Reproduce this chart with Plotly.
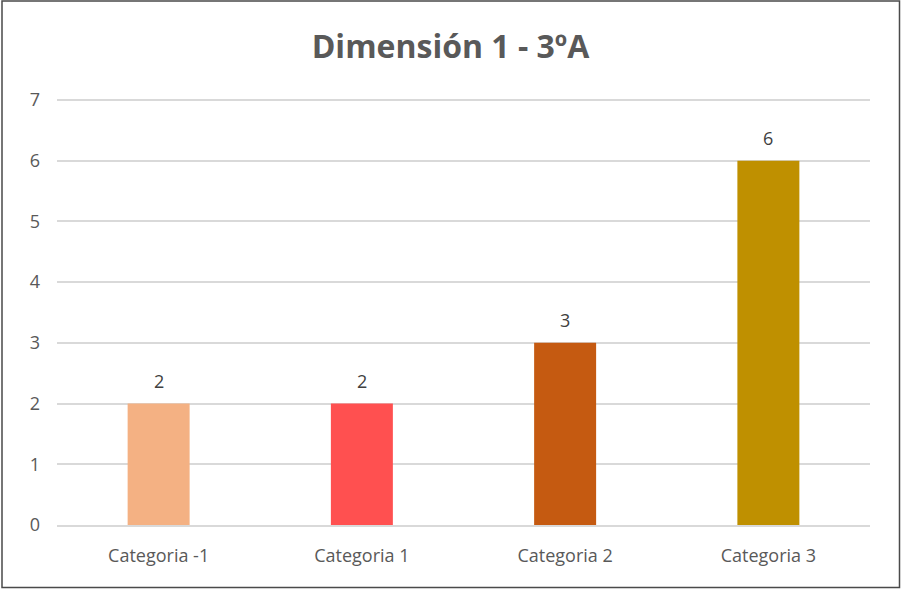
import plotly.graph_objects as go

categories = ["Categoria -1", "Categoria 1", "Categoria 2", "Categoria 3"]
values = [2, 2, 3, 6]
colors = ["#F4B183", "#FF5050", "#C55A11", "#BF9000"]
y_ticks = [0, 1, 2, 3, 4, 5, 6, 7]

W, H = 901, 589
YMAX = 7.05
L, R, B = 57, 31, 64
T = 97
pw, ph = W - L - R, H - T - B

fig = go.Figure(go.Bar(
    x=categories, y=values, marker=dict(color=colors, line=dict(width=0)),
    width=0.305, hoverinfo="x+y",
))

for c, v in zip(categories, values):
    fig.add_annotation(x=c, y=v, text=str(v), showarrow=False,
                       yanchor="bottom", yshift=9,
                       font=dict(family="Open Sans", size=18, color="#404040"))

def px_x(p):
    return (p - L) / pw

def px_y(p):
    return (H - B - p) / ph

fig.update_layout(
    width=W, height=H,
    margin=dict(l=L, r=R, t=T, b=B),
    paper_bgcolor="white", plot_bgcolor="white",
    title=dict(text="<b>Dimensión 1 - 3ºA</b>", x=0.5, xanchor="center",
               y=1 - 47 / H, yanchor="middle",
               font=dict(family="Open Sans", size=32, color="#595959")),
    showlegend=False,
    xaxis=dict(showgrid=False, showline=True, linecolor="#D9D9D9", linewidth=1.5,
               ticks="", ticklabelstandoff=14,
               tickfont=dict(family="Open Sans", size=18, color="#595959")),
    yaxis=dict(range=[0, YMAX], tickvals=y_ticks, showgrid=True, gridcolor="#D9D9D9",
               gridwidth=1.5, zeroline=False, showline=False, ticks="",
               ticklabelstandoff=16,
               tickfont=dict(family="Open Sans", size=18, color="#595959")),
    shapes=[dict(type="rect", xref="paper", yref="paper",
                 x0=px_x(2), x1=px_x(899.5), y0=px_y(587.5), y1=px_y(1),
                 line=dict(color="#4A4A4A", width=1.5), layer="below")],
)

fig.write_html("out.html", config={"displayModeBar": False},
               post_script="document.body.style.margin='0';document.body.style.overflow='hidden';")
